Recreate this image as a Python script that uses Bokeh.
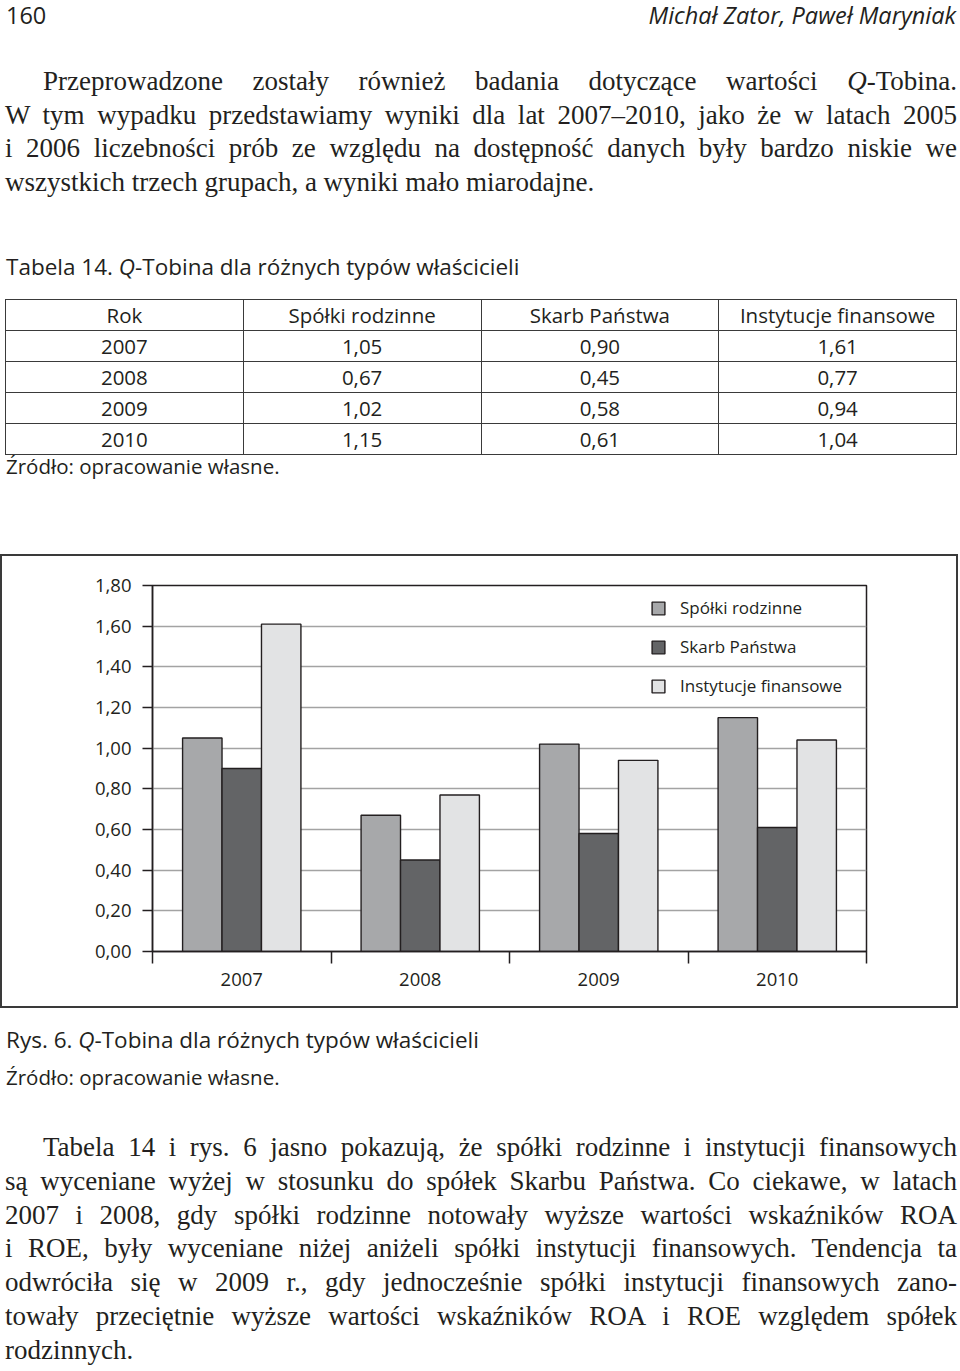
from bokeh.plotting import figure
from bokeh.models import (FactorRange, Range1d, LinearAxis, FixedTicker,
                          CustomJSTickFormatter, Legend, LegendItem, Div, ColumnDataSource)
from bokeh.transform import dodge
from bokeh.layouts import column
from bokeh.embed import file_html
from bokeh.resources import INLINE

# ---------------- data ----------------
years = ["2007", "2008", "2009", "2010"]
family = [1.05, 0.67, 1.02, 1.15]
state = [0.90, 0.45, 0.58, 0.61]
financial = [1.61, 0.77, 0.94, 1.04]
series_names = ["Spółki rodzinne", "Skarb Państwa", "Instytucje finansowe"]
table_header = ["Rok"] + series_names
y_ticks = [0.0, 0.2, 0.4, 0.6, 0.8, 1.0, 1.2, 1.4, 1.6, 1.8]

page_number = "160"
authors = "Michał Zator, Paweł Maryniak"
para1 = [
    "Przeprowadzone zostały również badania dotyczące wartości <i>Q</i>-Tobina.",
    "W tym wypadku przedstawiamy wyniki dla lat 2007–2010, jako że w latach 2005",
    "i 2006 liczebności prób ze względu na dostępność danych były bardzo niskie we",
    "wszystkich trzech grupach, a wyniki mało miarodajne.",
]
table_title = "Tabela 14. <i>Q</i>-Tobina dla różnych typów właścicieli"
source_note = "Źródło: opracowanie własne."
fig_caption = "Rys. 6. <i>Q</i>-Tobina dla różnych typów właścicieli"
para2 = [
    "Tabela 14 i rys. 6 jasno pokazują, że spółki rodzinne i instytucji finansowych",
    "są wyceniane wyżej w stosunku do spółek Skarbu Państwa. Co ciekawe, w latach",
    "2007 i 2008, gdy spółki rodzinne notowały wyższe wartości wskaźników ROA",
    "i ROE, były wyceniane niżej aniżeli spółki instytucji finansowych. Tendencja ta",
    "odwróciła się w 2009 r., gdy jednocześnie spółki instytucji finansowych zano-",
    "towały przeciętnie wyższe wartości wskaźników ROA i ROE względem spółek",
    "rodzinnych.",
]

INK = "#231f20"
SERIF = "'Liberation Serif', serif"
SANS = "'Open Sans', sans-serif"
colors = ["#a7a8aa", "#636466", "#e2e3e4"]
W = 952      # width of the text blocks
FW = 958     # width of the chart box


def fmt(v):
    return f"{v:.2f}".replace(".", ",")


def para_html(lines, top, lh=33.5, size=27):
    out = []
    for i, ln in enumerate(lines):
        last = i == len(lines) - 1
        indent = 38 if i == 0 else 0
        out.append(
            f'<div style="position:absolute;left:0;top:{top + i * lh}px;width:{W}px;'
            f'height:{lh}px;line-height:{lh}px;box-sizing:border-box;padding-left:{indent}px;'
            f'font-family:{SERIF};font-size:{size}px;color:{INK};'
            f'text-align:justify;text-align-last:{"left" if last else "justify"};">{ln}</div>')
    return "".join(out)


def sans_line(text, top, size, lh=26, italic=False, align="left"):
    st = "italic" if italic else "normal"
    return (f'<div style="position:absolute;left:0;top:{top}px;width:{W}px;height:{lh}px;'
            f'line-height:{lh}px;font-family:{SANS};font-size:{size}px;font-style:{st};'
            f'color:{INK};text-align:{align};padding:0 1px;box-sizing:border-box;">{text}</div>')


# ---------------- top block ----------------
cell = (f'padding:0;height:30px;line-height:30px;border:1.5px solid #3a3a3a;text-align:center;'
        f'font-family:{SANS};font-size:20.5px;color:{INK};width:25%;')
rows = ["<tr>" + "".join(f'<td style="{cell}">{h}</td>' for h in table_header) + "</tr>"]
for yr, a, b, c in zip(years, family, state, financial):
    rows.append("<tr>" + "".join(f'<td style="{cell}">{v}</td>' for v in [yr, fmt(a), fmt(b), fmt(c)]) + "</tr>")
table_html = (f'<table style="position:absolute;left:0;top:294px;width:{W}px;'
              f'border-collapse:collapse;table-layout:fixed;">' + "".join(rows) + "</table>")

top_html = (f'<div style="position:relative;width:{W}px;height:544px;">'
            + sans_line(page_number, -2, 23.5, lh=24)
            + sans_line(authors, -2, 23.5, lh=24, italic=True, align="right")
            + para_html(para1, 60)
            + sans_line(table_title, 249, 22.5)
            + table_html
            + sans_line(source_note, 448, 20.5)
            + '</div>')
top_div = Div(text=top_html, width=W, height=544)

# ---------------- chart ----------------
src = ColumnDataSource(dict(year=years, family=family, state=state, financial=financial))

p = figure(x_range=FactorRange(*years), y_range=Range1d(0, y_ticks[-1]),
           width=FW, height=454, output_backend="svg", toolbar_location=None,
           x_axis_location=None,
           min_border_left=150, min_border_right=94, min_border_top=29, min_border_bottom=59,
           styles={"border": "2px solid #3a3a3a"})
p.background_fill_color = "white"
p.border_fill_color = "white"
p.outline_line_color = INK
p.outline_line_width = 1.5

bw = 0.221
renderers = []
for field, off, col in zip(["family", "state", "financial"], [-bw, 0, bw], colors):
    r = p.vbar(x=dodge("year", off, range=p.x_range), top=field, width=bw, bottom=0,
               source=src, fill_color=col, line_color=INK, line_width=1.4)
    renderers.append(r)

yax = p.yaxis[0]
yax.ticker = FixedTicker(ticks=y_ticks)
yax.formatter = CustomJSTickFormatter(code="return tick.toFixed(2).replace('.', ',');")
yax.major_tick_out = 10
yax.major_tick_in = 0
yax.minor_tick_line_color = None
yax.axis_line_color = INK
yax.axis_line_width = 1.5
yax.major_tick_line_color = INK
yax.major_tick_line_width = 1.5
yax.major_label_text_font = "Open Sans"
yax.major_label_text_font_size = "18.5px"
yax.major_label_text_color = INK
yax.major_label_standoff = 11

for g in p.ygrid:
    g.ticker = FixedTicker(ticks=y_ticks)
    g.grid_line_color = "#a3a3a3"
    g.grid_line_width = 1.5
for g in p.xgrid:
    g.grid_line_color = None

# x axis on the factor range's synthetic coordinates:
# labels at category centres, small ticks at category boundaries
n = len(years)
xax = LinearAxis(ticker=FixedTicker(ticks=[i + 0.5 for i in range(n)],
                                    minor_ticks=list(range(n + 1))),
                 formatter=CustomJSTickFormatter(args=dict(labels=years),
                                                 code="return labels[Math.floor(tick)];"),
                 major_tick_line_color=None, major_tick_out=12, major_tick_in=0,
                 minor_tick_out=12, minor_tick_in=0,
                 minor_tick_line_color=INK, minor_tick_line_width=1.5,
                 axis_line_color=INK, axis_line_width=1.5,
                 major_label_standoff=9,
                 major_label_text_font="Open Sans",
                 major_label_text_font_size="18.5px",
                 major_label_text_color=INK)
p.add_layout(xax, "below")

legend = Legend(items=[LegendItem(label=nm, renderers=[r]) for nm, r in zip(series_names, renderers)],
                location=(498, 254), padding=0, margin=0, spacing=16,
                glyph_width=16, glyph_height=16, label_height=20, label_standoff=14,
                border_line_color=None, background_fill_alpha=0,
                label_text_font="Open Sans", label_text_font_size="17px",
                label_text_color=INK)
p.add_layout(legend)

# ---------------- bottom block ----------------
bottom_html = (f'<div style="position:relative;width:{W}px;height:357px;">'
               + sans_line(fig_caption, 14, 22.5)
               + sans_line(source_note, 51, 20.5)
               + para_html(para2, 118, lh=33.8)
               + '</div>')
bottom_div = Div(text=bottom_html, width=W, height=357)

layout = column(top_div, p, bottom_div, spacing=0)

open("out.html", "w").write(file_html(layout, INLINE))
